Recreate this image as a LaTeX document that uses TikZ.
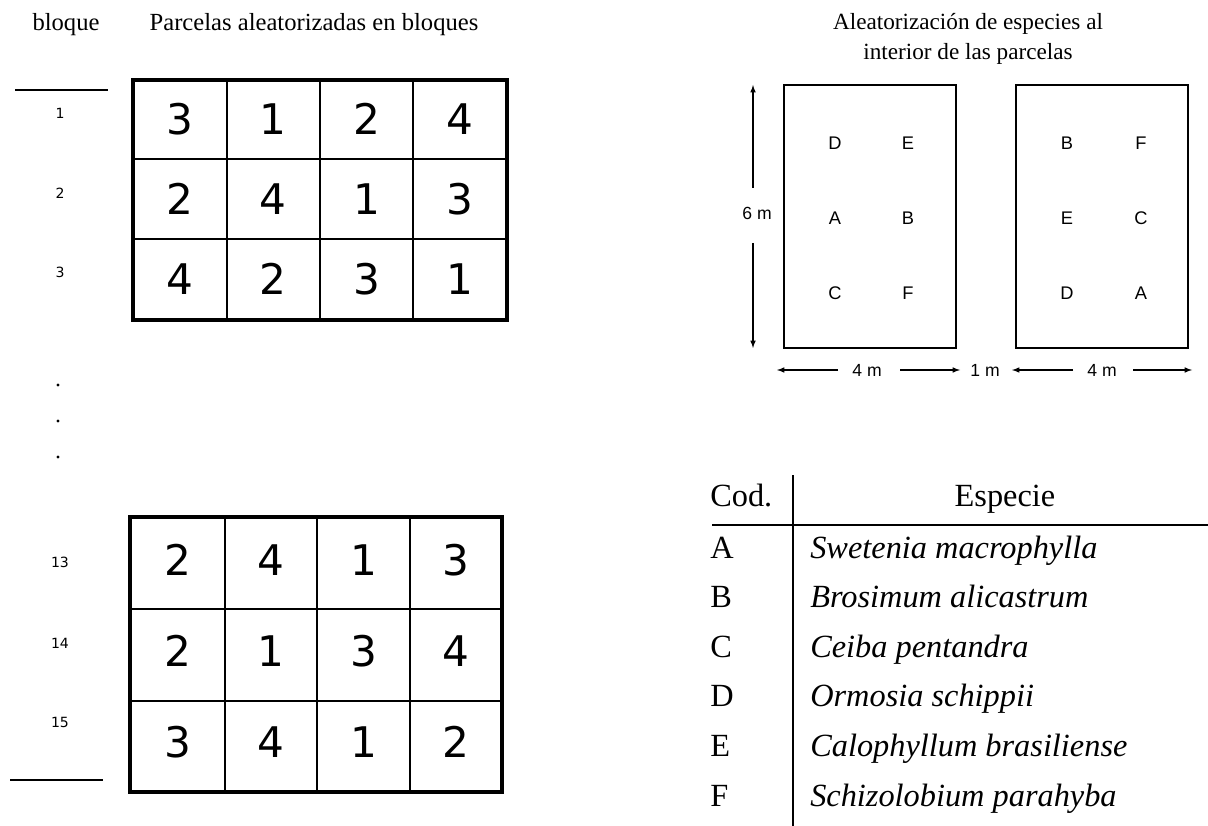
\documentclass[tikz,border=0pt]{standalone}
\usepackage{fontspec}
\setmainfont{Liberation Serif}
\setsansfont{Liberation Sans}
\newfontfamily\gridfont{DejaVu Sans}

\begin{document}
\begin{tikzpicture}[x=0.025cm, y=-0.025cm,
	title/.style={anchor=base, inner sep=0pt, font=\fontsize{17.5}{21}\selectfont},
	blocknum/.style={font=\gridfont\fontsize{10}{12}\selectfont},
	cellnum/.style={font=\gridfont\fontsize{30}{36}\selectfont},
	cellline/.style={line width=1pt},
	gridborder/.style={line width=2.8pt},
	plotbox/.style={shape=rectangle, draw, line width=1.6pt, minimum width=4.3cm, minimum height=6.575cm},
	species/.style={font=\sffamily\fontsize{13}{15}\selectfont},
	dimlabel/.style={font=\sffamily\fontsize{12.5}{14}\selectfont},
	dimline/.style={line width=0.8pt, -latex},
	tabtext/.style={anchor=base west, inner sep=0pt, font=\fontsize{23}{27}\selectfont},
	tabline/.style={line width=0.9pt},
	dot/.style={shape=circle, fill, inner sep=0pt, minimum size=2.4pt}]
	\fill[white] (0,0) rectangle (1208,826);
	\useasboundingbox (0,0) rectangle (1208,826);

	% left part: blocks
	\node[title] (blocklabel) at (66,31){bloque};
	\node[title] (plottitle) at (314,31){Parcelas aleatorizadas en bloques};
	\coordinate (rule1 l) at (15,90);
	\coordinate (rule1 r) at (108,90);
	\coordinate (rule2 l) at (10,780);
	\coordinate (rule2 r) at (103,780);
	\draw[tabline] (rule1 l) -- (rule1 r);
	\draw[tabline] (rule2 l) -- (rule2 r);
	\foreach \n/\y in {1/113, 2/193, 3/272, 13/562, 14/643, 15/722}
		\node[blocknum] (block-\n) at (60,\y){\n};
	\foreach \y [count=\i] in {385, 421, 457}
		\node[dot] (dot-\i) at (58,\y){};

	% upper grid
	\foreach \x in {227, 320, 413}
		\draw[cellline] (\x,80) -- (\x,320);
	\foreach \y in {159, 239}
		\draw[cellline] (133,\y) -- (507,\y);
	\draw[gridborder] (133,80) rectangle (507,320);
	\foreach \row [count=\r from 0] in {{3,1,2,4},{2,4,1,3},{4,2,3,1}}
		\foreach \d [count=\c from 0] in \row
			\node[cellnum] (top-\r-\c) at (180+93.3*\c, 119+80*\r){\d};

	% lower grid
	\foreach \x in {225, 317, 410}
		\draw[cellline] (\x,517) -- (\x,792);
	\foreach \y in {609, 701}
		\draw[cellline] (130,\y) -- (502,\y);
	\draw[gridborder] (130,517) rectangle (502,792);
	\foreach \row [count=\r from 0] in {{2,4,1,3},{2,1,3,4},{3,4,1,2}}
		\foreach \d [count=\c from 0] in \row
			\node[cellnum] (bot-\r-\c) at (178+92.8*\c, 560+91*\r){\d};

	% right part: plots
	\node[title, font=\fontsize{16.5}{20}\selectfont] (speciestitle1) at (968,30){Aleatorización de especies al};
	\node[title, font=\fontsize{16.5}{20}\selectfont] (speciestitle2) at (968,60){interior de las parcelas};
	\node[plotbox] (plotL) at (870,216.5){};
	\node[plotbox] (plotR) at (1102,216.5){};
	\foreach \t/\x/\y in {D/835/143, E/908/143, A/835/218, B/908/218, C/835/293, F/908/293}
		\node[species] (l-\t) at (\x,\y){\t};
	\foreach \t/\x/\y in {B/1067/143, F/1141/143, E/1067/218, C/1141/218, D/1067/293, A/1141/293}
		\node[species] (r-\t) at (\x,\y){\t};

	% dimensions
	\node[dimlabel] (height) at (757,213){6 m};
	\coordinate (height top) at (753,85);
	\coordinate (height up) at (753,188);
	\coordinate (height down) at (753,243);
	\coordinate (height bot) at (753,348);
	\draw[dimline] (height up) -- (height top);
	\draw[dimline] (height down) -- (height bot);
	\node[dimlabel] (widthL) at (867,370){4 m};
	\node[dimlabel] (gap) at (985,370){1 m};
	\node[dimlabel] (widthR) at (1102,370){4 m};
	\coordinate (wl a) at (777,370);
	\coordinate (wl b) at (838,370);
	\coordinate (wl c) at (900,370);
	\coordinate (wl d) at (960,370);
	\coordinate (wr a) at (1012,370);
	\coordinate (wr b) at (1073,370);
	\coordinate (wr c) at (1133,370);
	\coordinate (wr d) at (1192,370);
	\draw[dimline] (wl b) -- (wl a);
	\draw[dimline] (wl c) -- (wl d);
	\draw[dimline] (wr b) -- (wr a);
	\draw[dimline] (wr c) -- (wr d);

	% species table
	\node[tabtext] (codhead) at (710,506){Cod.};
	\node[tabtext, anchor=base] (namehead) at (1005,506){Especie};
	\coordinate (tab top) at (793,475);
	\coordinate (tab bot) at (793,826);
	\coordinate (tab left) at (712,525);
	\coordinate (tab right) at (1208,525);
	\draw[tabline] (tab top) -- (tab bot);
	\draw[tabline] (tab left) -- (tab right);
	\foreach \t/\name [count=\i from 0] in {A/Swetenia macrophylla, B/Brosimum alicastrum, C/Ceiba pentandra, D/Ormosia schippii, E/Calophyllum brasiliense, F/Schizolobium parahyba}
		\node[tabtext] (code-\t) at (710,558+49.6*\i){\t}
		node[tabtext] (name-\t) at (810,558+49.6*\i){\textit{\name}};
\end{tikzpicture}
\end{document}
